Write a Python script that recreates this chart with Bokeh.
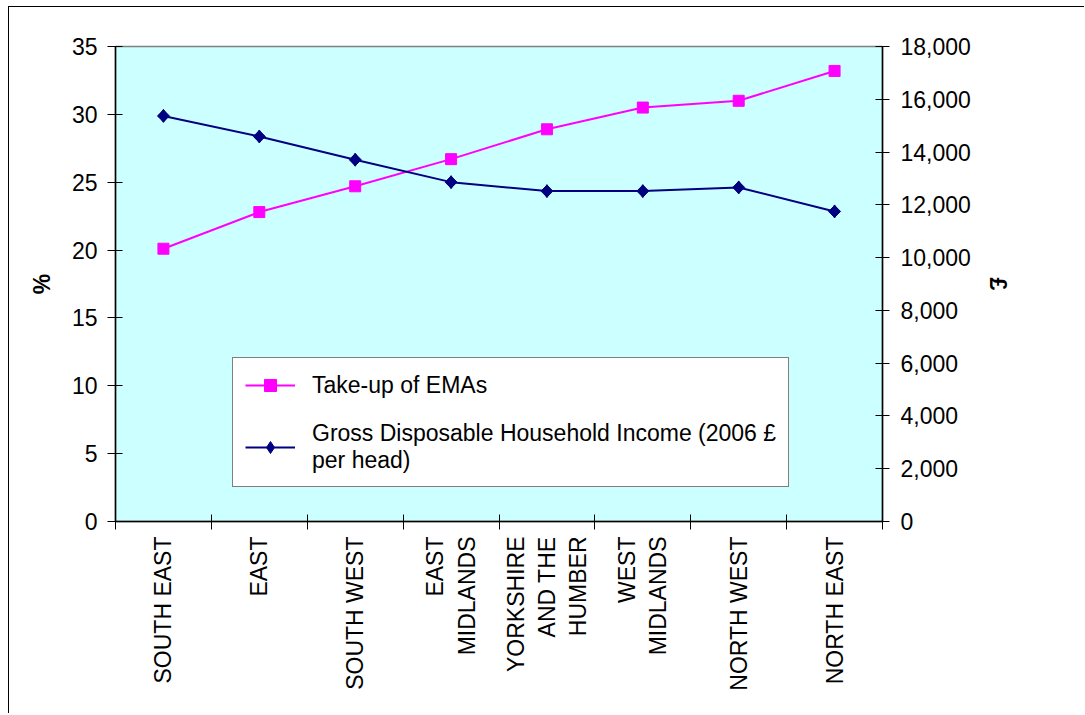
import numpy as np
from bokeh.plotting import figure
from bokeh.models import (Range1d, LinearAxis, FixedTicker, NumeralTickFormatter,
                          Legend, LegendItem)
from bokeh.embed import file_html
from bokeh.resources import INLINE

# ---- data ----
categories = ["SOUTH EAST", "EAST", "SOUTH WEST", "EAST\nMIDLANDS",
              "YORKSHIRE\nAND THE\nHUMBER", "WEST\nMIDLANDS", "NORTH WEST", "NORTH EAST"]
ema_takeup = [20.1, 22.8, 24.7, 26.7, 28.9, 30.5, 31.0, 33.2]
gdhi = [15370, 14590, 13710, 12860, 12520, 12520, 12660, 11750]
left_ticks = [0, 5, 10, 15, 20, 25, 30, 35]
right_ticks = [0, 2000, 4000, 6000, 8000, 10000, 12000, 14000, 16000, 18000]
ema_label = "Take-up of EMAs"
gdhi_label = "Gross Disposable Household Income (2006 £\nper head)"

FONT = "Liberation Sans"
FS = "23px"
PINK = "#FF00FF"
NAVY = "#000080"

n = len(categories)
xpos = [i + 0.5 for i in range(n)]
bounds = list(range(n + 1))

p = figure(width=1076, height=707, output_backend="svg", toolbar_location=None,
           x_range=Range1d(0, n), y_range=Range1d(left_ticks[0], left_ticks[-1]),
           min_border_left=106, min_border_right=203, min_border_top=39,
           min_border_bottom=193,
           styles={"margin-left": "8px", "margin-top": "6px",
                   "border-left": "1px solid black", "border-top": "1px solid black"})
p.extra_y_ranges = {"gdhi": Range1d(right_ticks[0], right_ticks[-1])}

p.background_fill_color = "#CCFFFF"
p.border_fill_color = "white"
p.outline_line_color = "#808080"
p.outline_line_width = 1.5
p.xgrid.visible = False
p.ygrid.visible = False

# bottom axis: labels at centres, tick marks at boundaries
xa = p.xaxis[0]
xa.ticker = FixedTicker(ticks=xpos, minor_ticks=bounds)
xa.major_label_overrides = {x: c for x, c in zip(xpos, categories)}
xa.major_tick_in = 0
xa.major_tick_out = 0
xa.minor_tick_in = 7
xa.minor_tick_out = 8
xa.minor_tick_line_color = "black"
xa.axis_line_color = "black"
xa.axis_line_width = 1.5
xa.major_label_orientation = np.pi / 2
xa.major_label_standoff = 7
xa.major_label_text_font = FONT
xa.major_label_text_font_size = FS
xa.major_label_text_color = "black"

# left axis
ya = p.yaxis[0]
ya.ticker = FixedTicker(ticks=left_ticks)
ya.major_tick_in = 7
ya.major_tick_out = 8
ya.minor_tick_line_color = None
ya.axis_line_color = "black"
ya.axis_line_width = 1.5
ya.major_label_standoff = 10
ya.major_label_text_font = FONT
ya.major_label_text_font_size = FS
ya.major_label_text_color = "black"
ya.axis_label = "%"
ya.axis_label_text_font = FONT
ya.axis_label_text_font_size = FS
ya.axis_label_text_font_style = "bold"
ya.axis_label_text_color = "black"
ya.axis_label_standoff = 14

# right axis
ra = LinearAxis(y_range_name="gdhi", ticker=FixedTicker(ticks=right_ticks),
                formatter=NumeralTickFormatter(format="0,0"))
ra.major_tick_in = 7
ra.major_tick_out = 7
ra.minor_tick_line_color = None
ra.axis_line_color = "black"
ra.axis_line_width = 1.5
ra.major_label_standoff = 11
ra.major_label_text_font = FONT
ra.major_label_text_font_size = FS
ra.major_label_text_color = "black"
ra.axis_label = "£"
ra.axis_label_text_font = FONT
ra.axis_label_text_font_size = FS
ra.axis_label_text_font_style = "bold"
ra.axis_label_text_color = "black"
ra.axis_label_standoff = 11
p.add_layout(ra, "right")

# series
l1 = p.line(xpos, ema_takeup, line_color=PINK, line_width=2)
s1 = p.scatter(xpos, ema_takeup, marker="square", size=11, fill_color=PINK, line_color=PINK)
l2 = p.line(xpos, gdhi, line_color=NAVY, line_width=2, y_range_name="gdhi")
# diamond glyph (used for the legend swatch), covered by the rotated squares below
s2_leg = p.scatter(xpos, gdhi, marker="diamond", size=13,
                   fill_color=NAVY, line_color=NAVY, y_range_name="gdhi")
s2 = p.scatter(xpos, gdhi, marker="square", angle=np.pi / 4, size=8.5,
               fill_color=NAVY, line_color=NAVY, y_range_name="gdhi")

legend = Legend(items=[LegendItem(label=ema_label, renderers=[l1, s1]),
                       LegendItem(label=gdhi_label, renderers=[l2, s2_leg])],
                location=(117, 34), border_line_color="black", border_line_width=1,
                background_fill_color="white", background_fill_alpha=1,
                label_text_font=FONT, label_text_font_size=FS, label_text_color="black",
                glyph_width=50, glyph_height=30, label_standoff=17,
                padding=12, spacing=20, margin=0)
p.add_layout(legend)

open("out.html", "w").write(file_html(p, INLINE))
